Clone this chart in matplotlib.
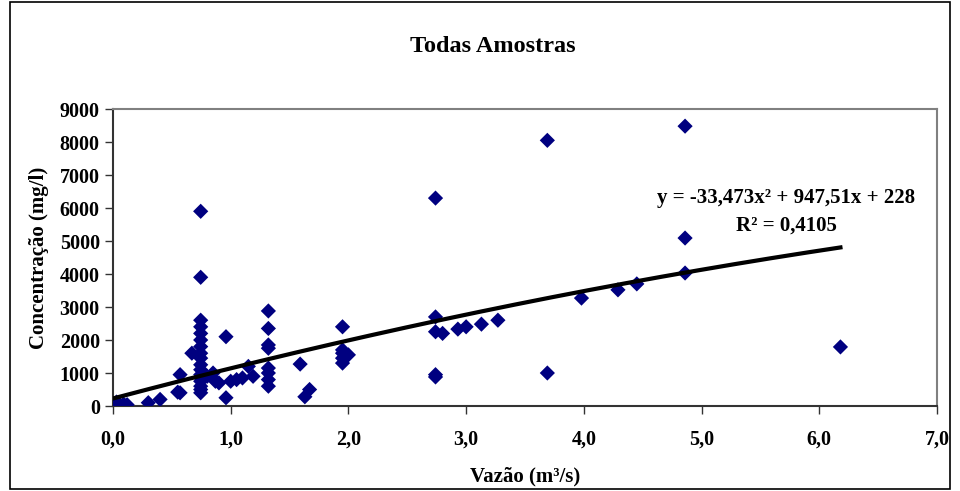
import numpy as np
import matplotlib
matplotlib.use("Agg")
import matplotlib.pyplot as plt
from matplotlib.patches import Rectangle

# Vazao (m3/s) x Concentracao (mg/l)
vazao = [0.02, 0.04, 0.06, 0.09, 0.12, 0.03,
         0.30, 0.40,
         0.57, 0.57, 0.55, 0.67,
         0.745, 0.745, 0.745, 0.745, 0.745, 0.745, 0.745, 0.745, 0.745,
         0.745, 0.745, 0.745, 0.745, 0.745, 0.745, 0.745, 0.745,
         0.80, 0.85, 0.87, 0.90, 0.96, 0.96, 1.00, 1.05, 1.10, 1.15, 1.19,
         1.32, 1.32, 1.32, 1.32, 1.32, 1.32, 1.32, 1.32,
         1.59, 1.63, 1.67,
         1.95, 1.95, 1.95, 1.95, 1.95, 2.00,
         2.74, 2.74, 2.74, 2.74, 2.74, 2.80, 2.93, 3.00, 3.13, 3.27,
         3.69, 3.69, 3.98, 4.29, 4.45,
         4.86, 4.86, 4.86, 6.18]
concentracao = [50, 80, 30, 60, 40, 120,
                100, 200,
                950, 400, 420, 1600,
                5900, 3900, 2600, 2400, 2200, 2000, 1800, 1600, 1450,
                1250, 1100, 950, 850, 750, 600, 500, 400,
                900, 1000, 750, 700, 2100, 250, 750, 800, 850, 1200, 900,
                2880, 2350, 1850, 1750, 1150, 1000, 800, 600,
                1270, 280, 500,
                2400, 1700, 1600, 1450, 1300, 1550,
                6300, 2700, 2250, 950, 880, 2200, 2330, 2400, 2480, 2600,
                8050, 1000, 3270, 3520, 3700,
                8480, 5090, 4030, 1790]

# trend line shown on the chart
coef = [-33.473, 947.51, 228]

plt.rcParams['font.family'] = ['Liberation Serif', 'DejaVu Serif']
plt.rcParams['font.weight'] = 'bold'

fig = plt.figure(figsize=(9.6, 4.91), dpi=100)
ax = fig.add_axes([0.1177, 0.1731, 0.8583, 0.6049])

ax.scatter(vazao, concentracao, marker='D', s=60, color='#000080',
           edgecolors='none', zorder=3)
xs = np.linspace(0, max(vazao), 200)
ax.plot(xs, np.polyval(coef, xs), color='black', lw=3, zorder=4)

ax.set_xlim(0, 7)
ax.set_ylim(0, 9000)
ax.set_xticks(np.arange(0, 8, 1))
ax.set_xticklabels([f"{v:.1f}".replace('.', ',') for v in range(8)])
ax.set_yticks(np.arange(0, 10000, 1000))
ax.tick_params(direction='out', length=6, width=1, labelsize=14.5, color='#333333')
for lab in ax.get_xticklabels() + ax.get_yticklabels():
    lab.set_fontweight('bold')
ax.tick_params(axis='x', pad=11)

ax.spines['top'].set_color('#808080')
ax.spines['right'].set_color('#808080')
ax.spines['left'].set_color('#333333')
ax.spines['bottom'].set_color('#333333')
for s in ax.spines.values():
    s.set_linewidth(1.5)

ax.set_xlabel('Vazão (m³/s)', fontsize=15, fontweight='bold', labelpad=12)
ax.set_ylabel('Concentração (mg/l)', fontsize=15, fontweight='bold', labelpad=8)
fig.text(0.513, 0.906, 'Todas Amostras', ha='center', va='center',
         fontsize=17.5, fontweight='bold')

ax.text(5.72, 6310, 'y = -33,473x² + 947,51x + 228', ha='center',
        va='center', fontsize=15, fontweight='bold')
ax.text(5.72, 5470, 'R² = 0,4105', ha='center', va='center',
        fontsize=15, fontweight='bold')

fig.patches.append(Rectangle((10 / 960, 2 / 491), 940 / 960, 487 / 491,
                             transform=fig.transFigure, fill=False,
                             edgecolor='black', lw=1.2))

fig.savefig('out.png', dpi=100)
